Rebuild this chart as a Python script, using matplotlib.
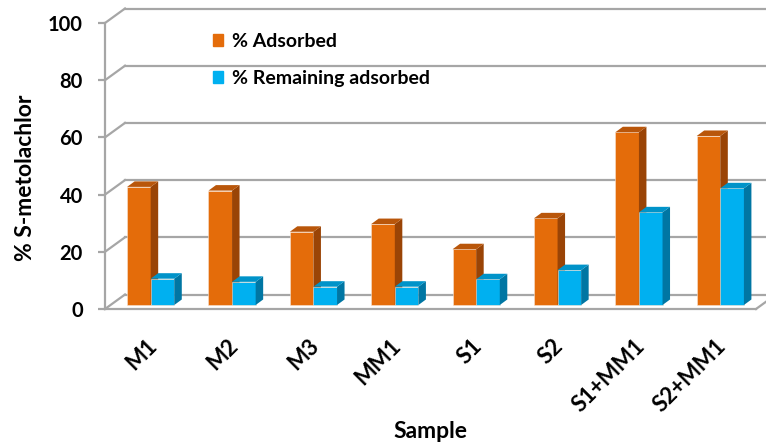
import matplotlib.pyplot as plt
from matplotlib.patches import Patch

samples = ['M1', 'M2', 'M3', 'MM1', 'S1', 'S2', 'S1+MM1', 'S2+MM1']
adsorbed = [41.3, 40.0, 25.6, 28.3, 19.5, 30.3, 60.4, 59.1]
remaining = [9.2, 8.1, 6.4, 6.4, 9.0, 12.2, 32.4, 40.8]
yticks = [0, 20, 40, 60, 80, 100]

plt.rcParams['font.family'] = ['Lato', 'DejaVu Sans']
plt.rcParams['font.weight'] = 'bold'

orange = ('#E46C0A', '#9A4406', '#B9560A')   # front, side, top
blue = ('#00B0F0', '#0076A3', '#0093C9')
grid = '#A6A6A6'

fig = plt.figure(figsize=(7.66, 4.47), dpi=100)
ax = fig.add_axes([105 / 766, 138 / 447, 651 / 766, 286 / 447])
ax.set_xlim(-0.5, len(samples) - 0.5)
ax.set_ylim(0, 100)

# pixel -> data conversion for the pseudo-3D depth offsets
p0 = ax.transData.transform((0, 0))
p1 = ax.transData.transform((1, 1))
xpx, ypx = p1[0] - p0[0], p1[1] - p0[1]


def shift(dx, dy):
    return dx / xpx, dy / ypx


xmin, xmax = ax.get_xlim()

# back wall gridlines + connectors from the front axis
bx, by = shift(20, 14.5)
for v in yticks:
    ax.plot([xmin, xmin + bx], [v, v + by], color=grid, lw=1.6, clip_on=False, zorder=1)
    ax.plot([xmin + bx, xmax + bx], [v + by, v + by], color=grid, lw=1.6,
            clip_on=False, zorder=1)
ax.plot([xmax, xmax + bx], [0, by], color=grid, lw=1.6, clip_on=False, zorder=1)

# bars: front face with ax.bar, side and top faces as polygons
fx, fy = shift(5, 4)
dx, dy = shift(7.5, 5.5)
w = 0.29
x = list(range(len(samples)))


def bars3d(xs, vals, cols):
    ax.bar(xs, vals, width=w, bottom=fy, color=cols[0], align='edge',
           edgecolor='#F7E3D3', linewidth=0.4, zorder=3, clip_on=False)
    for x0, v in zip(xs, vals):
        x1 = x0 + w
        top = fy + v
        ax.fill([x1, x1 + dx, x1 + dx, x1], [fy, fy + dy, top + dy, top],
                color=cols[1], zorder=3, clip_on=False, lw=0)
        ax.fill([x0, x1, x1 + dx, x0 + dx], [top, top, top + dy, top + dy],
                color=cols[2], zorder=3, clip_on=False, lw=0)


bars3d([i - w + fx for i in x], adsorbed, orange)
bars3d([i + fx for i in x], remaining, blue)

# front axis and floor edge
for s in ['top', 'right']:
    ax.spines[s].set_visible(False)
for s in ['left', 'bottom']:
    ax.spines[s].set_color(grid)
    ax.spines[s].set_linewidth(1.6)

ax.set_yticks(yticks)
ax.set_xticks(x)
ax.set_xticklabels(samples, rotation=45, ha='right', va='top', rotation_mode='anchor')
ax.tick_params(axis='y', length=5, width=1.6, color=grid, labelsize=14.5, pad=11)
ax.tick_params(axis='x', length=0, labelsize=16, pad=19)

fig.text(26 / 766, 1 - 178 / 447, '% S-metolachlor', rotation=90, ha='center',
         va='center', fontsize=16.5, fontweight='bold')
fig.text(430 / 766, 1 - 431 / 447, 'Sample', ha='center', va='center',
         fontsize=16.5, fontweight='bold')

handles = [Patch(color=orange[0]), Patch(color=blue[0])]
ax.legend(handles, ['% Adsorbed', '% Remaining adsorbed'], loc='upper left',
          bbox_to_anchor=(203 / 766, 1 - 23 / 447), bbox_transform=fig.transFigure,
          frameon=False, fontsize=14, handlelength=0.55, handleheight=0.55,
          handletextpad=0.45, labelspacing=1.05, borderpad=0)

fig.savefig('out.png', dpi=100)
